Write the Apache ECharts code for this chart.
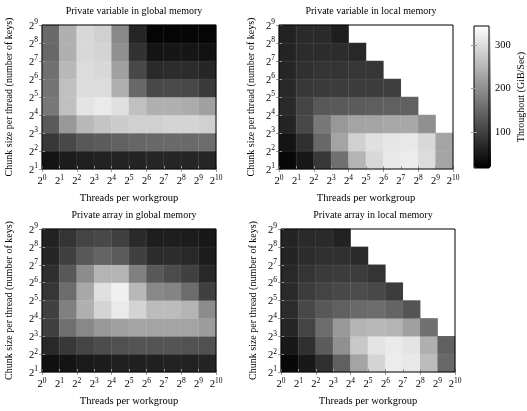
<!DOCTYPE html>
<html>
<head>
<meta charset="utf-8">
<script src="https://cdn.jsdelivr.net/npm/echarts@6/dist/echarts.min.js"></script>
<style>
html,body{margin:0;padding:0;background:#fff;}
#chart{width:527px;height:411px;}
</style>
</head>
<body>
<div id="chart"></div>
<script>
// Threads per workgroup (cell lower edges 2^0 .. 2^9) and chunk size (2^1 .. 2^8)
const threadCats = ['1','2','4','8','16','32','64','128','256','512'];
const chunkCats = ['2','4','8','16','32','64','128','256'];
// tick label exponents
const xTickExp = [0,1,2,3,4,5,6,7,8,9,10];
const yTickExp = [1,2,3,4,5,6,7,8,9];
const titles = ['Private variable in global memory','Private variable in local memory',
                'Private array in global memory','Private array in local memory'];
const colorbarTicks = [100,200,300];
const colorMin = 17, colorMax = 344;

// Throughput (GiB/Sec); rows from chunk 2^1 (bottom) upward, columns threads 2^0 ..
const varGlobal = [
  [43,53,58,61,63,63,66,66,66,66],
  [89,109,130,135,143,148,150,153,153,155],
  [132,212,253,268,279,284,284,289,289,284],
  [171,263,309,317,304,263,243,243,238,222],
  [166,263,299,299,243,150,109,112,109,91],
  [161,253,299,294,222,109,71,73,73,66],
  [150,243,294,289,202,81,43,45,45,40],
  [153,243,294,284,191,64,23,23,25,23]
];
const varLocal = [
  [27,48,89,161,248,294,314,320,299,227],
  [43,79,150,227,284,304,312,314,294,227],
  [63,109,171,212,227,227,232,232,202],
  [71,104,130,132,135,138,140,140],
  [68,89,91,94,94,94,97],
  [66,79,84,84,86,86],
  [63,73,73,73,68],
  [61,71,71,56]
];
const arrGlobal = [
  [38,43,50,53,58,58,58,61,61,63],
  [68,89,104,114,120,125,125,125,122,120],
  [99,161,191,212,222,227,227,227,227,217],
  [99,181,243,289,317,289,258,258,248,197],
  [86,155,232,304,325,253,191,186,155,99],
  [76,130,197,248,248,181,130,114,99,68],
  [66,99,130,145,135,99,73,73,68,53],
  [61,84,104,109,99,71,56,56,53,48]
];
const arrLocal = [
  [27,48,79,140,227,289,320,314,258,150],
  [48,79,135,202,273,309,317,309,243,140],
  [66,104,155,212,248,253,248,222,161],
  [73,109,130,140,153,155,145,125],
  [71,94,104,109,114,109,94],
  [68,84,91,94,94,84],
  [63,73,79,79,71],
  [63,71,71,61]
];
const panels = [varGlobal, varLocal, arrGlobal, arrLocal];

const FONT = '"Liberation Serif", "DejaVu Serif", serif';
const grids = [
  {left:42, top:25, width:174, height:144},
  {left:279, top:25, width:174, height:144},
  {left:42, top:229, width:174, height:143},
  {left:281, top:229, width:174, height:143}
];
const richSup = {
  b:{fontSize:10.5, fontFamily:FONT, color:'#000', lineHeight:13, verticalAlign:'bottom'},
  s:{fontSize:7.5, fontFamily:FONT, color:'#000', lineHeight:8, verticalAlign:'top'}
};
const tickStyle = {show:true, inside:true, length:3, lineStyle:{color:'#999', width:1}};

const option = {
  backgroundColor:'#fff',
  animation:false,
  title:[], grid:[], xAxis:[], yAxis:[], series:[],
  visualMap:{
    type:'continuous', min:colorMin, max:colorMax, seriesIndex:[0,1,2,3],
    inRange:{color:['#000000','#ffffff']},
    left:474, top:26, itemWidth:17, itemHeight:142, padding:0,
    calculable:false, hoverLink:false, text:null, textStyle:{fontSize:0}
  }
};

grids.forEach((g, i) => {
  option.grid.push(Object.assign({show:true, borderColor:'#000', borderWidth:1, backgroundColor:'transparent', z:10}, g));
  option.title.push({
    text:titles[i], left:g.left + g.width/2, top:g.top - 24, textAlign:'center',
    textStyle:{fontFamily:FONT, fontSize:10, fontWeight:'normal', color:'#000'}
  });
  // category axes used by heatmap (top / right), showing only inner ticks
  option.xAxis.push({
    type:'category', gridIndex:i, data:threadCats, position:'top', z:5,
    axisLine:{show:false}, axisLabel:{show:false}, axisTick:tickStyle, splitLine:{show:false}
  });
  option.xAxis.push({
    type:'value', gridIndex:i, min:0, max:10, interval:1, position:'bottom', z:5,
    axisLine:{show:false}, axisTick:tickStyle, splitLine:{show:false},
    axisLabel:{margin:5, formatter:v => '{b|2}{s|' + xTickExp[v] + '}', rich:richSup},
    name:'Threads per workgroup', nameLocation:'middle', nameGap:24,
    nameTextStyle:{fontFamily:FONT, fontSize:10.5, color:'#000'}
  });
  option.yAxis.push({
    type:'category', gridIndex:i, data:chunkCats, position:'right', z:5,
    axisLine:{show:false}, axisLabel:{show:false}, axisTick:tickStyle, splitLine:{show:false}
  });
  option.yAxis.push({
    type:'value', gridIndex:i, min:0, max:8, interval:1, position:'left', z:5,
    axisLine:{show:false}, axisTick:tickStyle, splitLine:{show:false},
    axisLabel:{margin:4, formatter:v => '{b|2}{s|' + yTickExp[v] + '}', rich:richSup},
    name:'Chunk size per thread (number of keys)', nameLocation:'middle', nameGap:i % 2 === 0 ? 28 : 23,
    nameTextStyle:{fontFamily:FONT, fontSize:10, color:'#000'}
  });
  const data = [];
  panels[i].forEach((row, r) => row.forEach((v, c) => data.push([c, r, v])));
  option.series.push({
    type:'heatmap', xAxisIndex:2*i, yAxisIndex:2*i, data:data,
    itemStyle:{borderColor:'rgba(255,255,255,0.12)', borderWidth:0.6},
    emphasis:{disabled:true}
  });
});

// colorbar axes
option.grid.push({left:474, top:26, width:17, height:142, show:true, borderColor:'#000', borderWidth:1, backgroundColor:'transparent', z:10});
option.xAxis.push({type:'value', gridIndex:4, show:false, min:0, max:1});
option.yAxis.push({
  type:'value', gridIndex:4, min:colorMin, max:colorMax, position:'right', z:12,
  axisLine:{show:false}, splitLine:{show:false},
  axisTick:{show:true, inside:true, length:3, customValues:colorbarTicks, lineStyle:{color:'#999'}},
  axisLabel:{margin:6, customValues:colorbarTicks, fontFamily:FONT, fontSize:10.5, color:'#000'},
  name:'Throughout (GiB/Sec)', nameLocation:'middle', nameGap:27,
  nameTextStyle:{fontFamily:FONT, fontSize:10, color:'#000'}
});
option.yAxis.push({
  type:'value', gridIndex:4, min:colorMin, max:colorMax, position:'left', z:12,
  axisLine:{show:false}, splitLine:{show:false}, axisLabel:{show:false},
  axisTick:{show:true, inside:true, length:3, customValues:colorbarTicks, lineStyle:{color:'#999'}}
});

const chart = echarts.init(document.getElementById('chart'), null, {renderer:'canvas'});
chart.setOption(option);
</script>
</body>
</html>
